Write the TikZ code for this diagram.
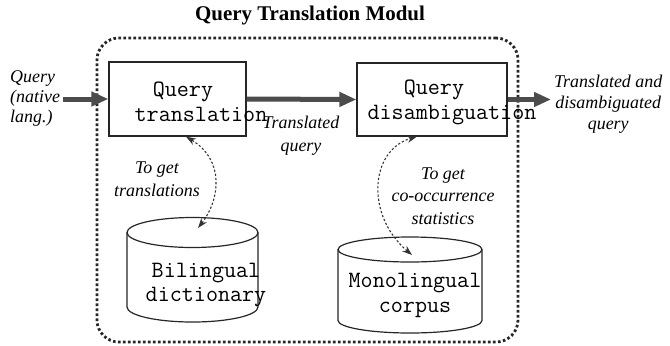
\documentclass[tikz,border=0pt]{standalone}
\usepackage{fontspec}
\setmainfont{Liberation Serif}
\usepackage{tikz}
\usetikzlibrary{arrows.meta}

\begin{document}
\begin{tikzpicture}[x=1bp,y=-1bp,
  procbox/.style={draw=black!85,line width=1.2bp,rectangle,inner sep=0pt},
  boxtext/.style={font=\ttfamily\fontsize{23.5}{25}\selectfont,align=center,inner sep=0pt},
  lbl/.style={font=\itshape\fontsize{18}{22}\selectfont,align=center,inner sep=0pt},
  flow/.style={draw=black!70,line width=5bp,-{Triangle[length=17bp,width=14bp]}},
  lookup/.style={black!80,line width=1.1bp,dash pattern=on 2.2bp off 2bp,
    {Stealth[length=10bp,width=7bp]}-{Stealth[length=10bp,width=7bp]}},
  modframe/.style={draw=black!85,line width=2.8bp,dash pattern=on 2.6bp off 2.4bp,
    rounded corners=22bp,rectangle,inner sep=0pt}]
\useasboundingbox (0,0) rectangle (670,345);

\node[font=\bfseries\fontsize{21}{25}\selectfont] (ttl) at (310,15) {Query Translation Modul};
\node[modframe,minimum width=421bp,minimum height=304bp] (qtm) at (307.5,190) {};

\node[procbox,minimum width=137bp,minimum height=74bp] (qt) at (177.5,99) {};
\node[procbox,minimum width=150bp,minimum height=73bp] (qd) at (432,99.5) {};
\node[boxtext] (qtt) at (201,102) {Query\hphantom{MMM}\\translation};
\node[boxtext] (qdt) at (452,102) {Query\hphantom{MMM}\\disambiguation};

\foreach \cx/\rx/\ry/\ty/\by in {192.5/65.5/15/232.5/307, 410/72/12.5/249.5/320.5}{
  \draw[black!85,line width=1.2bp] (\cx,\ty) ellipse[x radius=\rx,y radius=\ry];
  \draw[black!85,line width=1.2bp] (\cx-\rx,\ty) -- (\cx-\rx,\by)
    arc[start angle=180,end angle=0,x radius=\rx,y radius=\ry] -- (\cx+\rx,\ty);
}
\node[boxtext] (bil) at (206,285) {Bilingual\\dictionary};
\node[boxtext] (mon) at (415,295.5) {Monolingual\\corpus};
\coordinate (bilTop) at (198,228);
\coordinate (monTop) at (412,255);

\node[lbl,align=left,anchor=west,font=\itshape\fontsize{18}{20}\selectfont,inner sep=3bp] (qin) at (7,98.5) {Query\\(native\\lang.)};
\node[lbl,font=\itshape\fontsize{18}{21}\selectfont,anchor=west,inner sep=3bp] (qout) at (551,104) {Translated and\\disambiguated\\query};
\node[lbl,font=\itshape\fontsize{18}{23}\selectfont] (tq) at (301,135.5) {Translated\\query};
\node[lbl,font=\itshape\fontsize{18}{23}\selectfont] (gt) at (157,179) {To get\\translations};
\node[lbl,font=\itshape\fontsize{18}{22.5}\selectfont] (gc) at (443,196) {To get\\co-occurrence\\statistics};

\draw[flow] (qin.east |- qt.west) -- (qt.west);
\draw[flow] (qt.east) -- (qd.west);
\draw[flow] (qd.east) -- (qout.west |- qd.east);

\draw[lookup] (bilTop) .. controls (220,200) and (225,160) .. ([xshift=8.5bp]qt.south);
\draw[lookup] (monTop) .. controls (365,215) and (370,150) .. ([xshift=-15bp]qd.south);
\end{tikzpicture}
\end{document}
